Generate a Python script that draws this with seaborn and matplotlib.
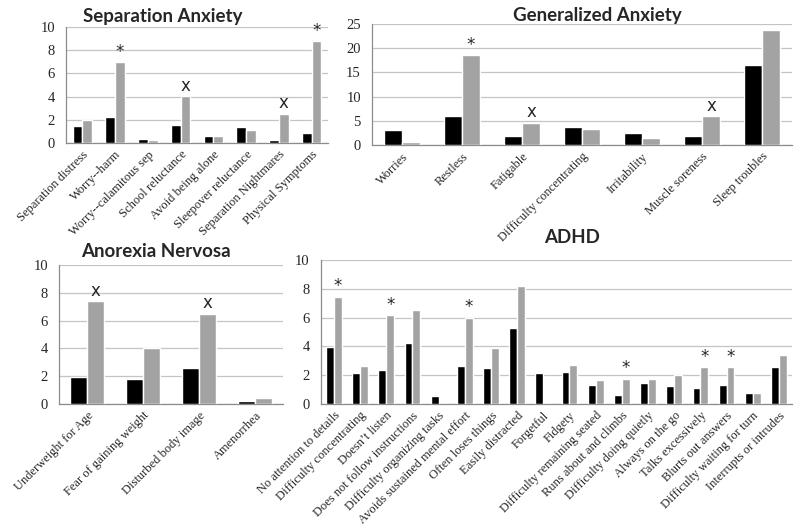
import numpy as np
import pandas as pd
import matplotlib
matplotlib.use("Agg")
import matplotlib.pyplot as plt
import seaborn as sns

# Separation anxiety
sep_labels = ['Separation distress', 'Worry--harm', 'Worry--calamitous sep', 'School reluctance',
              'Avoid being alone', 'Sleepover reluctance', 'Separation Nightmares', 'Physical Symptoms']
sep_black = [1.45, 2.25, 0.35, 1.6, 0.6, 1.4, 0.25, 0.85]
sep_gray = [2.0, 6.95, 0.3, 4.05, 0.65, 1.15, 2.55, 8.8]
sep_marks = ['', '*', '', 'x', '', '', 'x', '*']

# Generalized anxiety
gad_labels = ['Worries', 'Restless', 'Fatigable', 'Difficulty concentrating',
              'Irritability', 'Muscle soreness', 'Sleep troubles']
gad_black = [3.2, 5.9, 1.9, 3.7, 2.4, 1.8, 16.6]
gad_gray = [0.6, 18.6, 4.6, 3.4, 1.4, 5.9, 23.7]
gad_marks = ['', '*', 'x', '', '', 'x', '']

# Anorexia nervosa
an_labels = ['Underweight for Age', 'Fear of gaining weight', 'Disturbed body image', 'Amenorrhea']
an_black = [1.95, 1.8, 2.6, 0.2]
an_gray = [7.4, 4.0, 6.5, 0.4]
an_marks = ['x', '', 'x', '']

# ADHD
adhd_labels = ['No attention to details', 'Difficulty concentrating', "Doesn\u2019t listen",
               'Does not follow instructions', 'Difficulty organizing tasks',
               'Avoids sustained mental effort', 'Often loses things', 'Easily distracted',
               'Forgetful', 'Fidgety', 'Difficulty remaining seated', 'Runs about and climbs',
               'Difficulty doing quietly', 'Always on the go', 'Talks excessively',
               'Blurts out answers', 'Difficulty waiting for turn', 'Interrupts or intrudes']
adhd_black = [3.95, 2.15, 2.35, 4.25, 0.55, 2.65, 2.5, 5.25, 2.15, 2.25, 1.3, 0.6,
              1.45, 1.25, 1.1, 1.35, 0.8, 2.55]
adhd_gray = [7.45, 2.65, 6.15, 6.5, 0, 6.0, 3.9, 8.2, 0, 2.7, 1.7, 1.75,
             1.75, 2.0, 2.55, 2.55, 0.8, 3.4]
adhd_marks = ['*', '', '*', '', '', '*', '', '', '', '', '', '*', '', '', '*', '*', '', '']

sns.set_style("white")
serif = 'Liberation Serif'
grid_col = '#c4c4c4'
spine_col = '#8c8c8c'


def panel(ax, labels, black, gray, marks, title, ymax, ystep, title_x, pad):
    df = pd.DataFrame({
        'item': labels * 2,
        'group': ['a'] * len(labels) + ['b'] * len(labels),
        'value': black + gray,
    })
    sns.barplot(data=df, x='item', y='value', hue='group', order=labels,
                palette=['black', '#a3a3a3'], width=0.6, gap=0, ax=ax,
                legend=False, saturation=1, zorder=3)
    ax.set_ylim(0, ymax)
    ax.set_xlim(-0.5, len(labels) - 0.5)
    yt = np.arange(0, ymax + 0.1, ystep)
    ax.set_yticks(yt, [str(int(v)) for v in yt], family=serif, fontsize=10.5)
    ax.yaxis.grid(True, color=grid_col, lw=0.9, zorder=0)
    ax.set_axisbelow(True)
    ax.set_xlabel('')
    ax.set_ylabel('')
    for s in ['top', 'right']:
        ax.spines[s].set_visible(False)
    for s in ['left', 'bottom']:
        ax.spines[s].set_color(spine_col)
        ax.spines[s].set_linewidth(0.9)
    ax.set_xticks(np.arange(len(labels)))
    ax.set_xticklabels(labels, rotation=45, ha='right', rotation_mode='anchor',
                       family=serif, fontsize=9)
    ax.set_xticks(np.arange(len(labels) + 1) - 0.5, minor=True)
    ax.tick_params(axis='x', which='major', length=0, pad=4)
    ax.tick_params(axis='x', which='minor', length=4, color=spine_col, direction='out')
    ax.tick_params(axis='y', length=4, color=spine_col, pad=4)
    ax.set_title(title, fontsize=13.5, fontweight='bold', family='Lato', x=title_x, pad=pad)
    for bar, m in zip(ax.containers[1], marks):
        if m:
            ax.annotate(m, (bar.get_x() + bar.get_width() / 2, bar.get_height()),
                        xytext=(0, 1), textcoords='offset points',
                        ha='center', va='bottom', fontsize=12, family='DejaVu Sans')


fig = plt.figure(figsize=(8, 5.28), dpi=100)
ax1 = fig.add_axes([0.0825, 0.729, 0.3275, 0.2197])
ax2 = fig.add_axes([0.465, 0.7254, 0.525, 0.229])
ax3 = fig.add_axes([0.074, 0.2348, 0.28, 0.263])
ax4 = fig.add_axes([0.401, 0.2348, 0.589, 0.2727])

panel(ax1, sep_labels, sep_black, sep_gray, sep_marks, 'Separation Anxiety', 10, 2, 0.37, 4)
panel(ax2, gad_labels, gad_black, gad_gray, gad_marks, 'Generalized Anxiety', 25, 5, 0.536, 2)
panel(ax3, an_labels, an_black, an_gray, an_marks, 'Anorexia Nervosa', 10, 2, 0.43, 6)
panel(ax4, adhd_labels, adhd_black, adhd_gray, adhd_marks, 'ADHD', 10, 2, 0.533, 12)

fig.savefig('out.png', dpi=100)
